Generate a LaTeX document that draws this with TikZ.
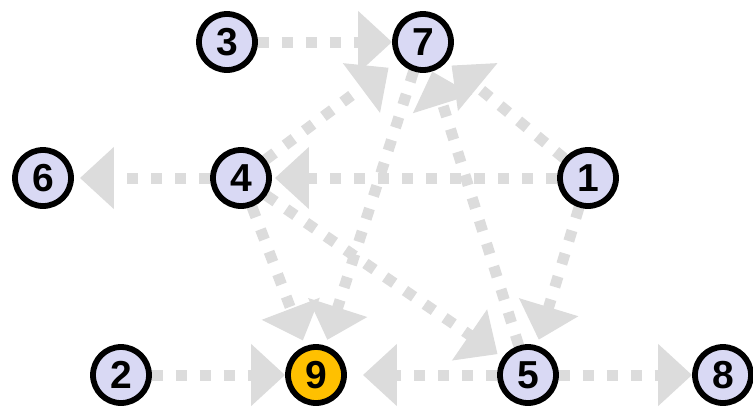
\documentclass[tikz,border=0pt]{standalone}
\usepackage{fontspec}
\setmainfont{Liberation Sans}
\usetikzlibrary{arrows.meta,backgrounds}
\definecolor{lav}{HTML}{D9D9F4}
\definecolor{gold}{HTML}{FFC000}
\definecolor{linkgray}{HTML}{DCDCDC}

\begin{document}
\begin{tikzpicture}[x=0.5pt,y=-0.5pt,
  vert/.style={circle,draw=black,line width=2.9pt,fill=lav,minimum size=28pt,inner sep=0pt,font=\fontsize{19.5}{19.5}\selectfont\bfseries},
  goal/.style={vert,fill=gold},
  link/.style={draw=linkgray,line width=5.5pt,dash pattern=on 5.5pt off 6.5pt,-{Triangle[length=17pt,width=30pt]},shorten >=3pt}]
\useasboundingbox (0,0) rectangle (753,408);
\node[vert] (n3) at (227,42) {3};
\node[vert] (n7) at (423,42) {7};
\node[vert] (n6) at (43,178) {6};
\node[vert] (n4) at (241,178) {4};
\node[vert] (n1) at (588,178) {1};
\node[vert] (n2) at (121,375) {2};
\node[goal] (n9) at (316,375) {9};
\node[vert] (n5) at (528,375) {5};
\node[vert] (n8) at (723,375) {8};
\begin{scope}[on background layer]
\draw[link,shorten >=0pt] (n3) -- (n7);
\draw[link,shorten >=6pt] (n4) -- (n7);
\draw[link] (n1) -- (n7);
\draw[link,shorten >=0pt] (n5) -- (n7);
\draw[link] (n4) -- (n6);
\draw[link,shorten >=1.5pt] (n1) -- (n4);
\draw[link] (n4) -- (n9);
\draw[link] (n7) -- (n9);
\draw[link,shorten >=0pt] (n2) -- (n9);
\draw[link,shorten >=8pt] (n5) -- (n9);
\draw[link] (n4) -- (n5);
\draw[link] (n1) -- (n5);
\draw[link,shorten >=0pt] (n5) -- (n8);
\end{scope}
\end{tikzpicture}
\end{document}
